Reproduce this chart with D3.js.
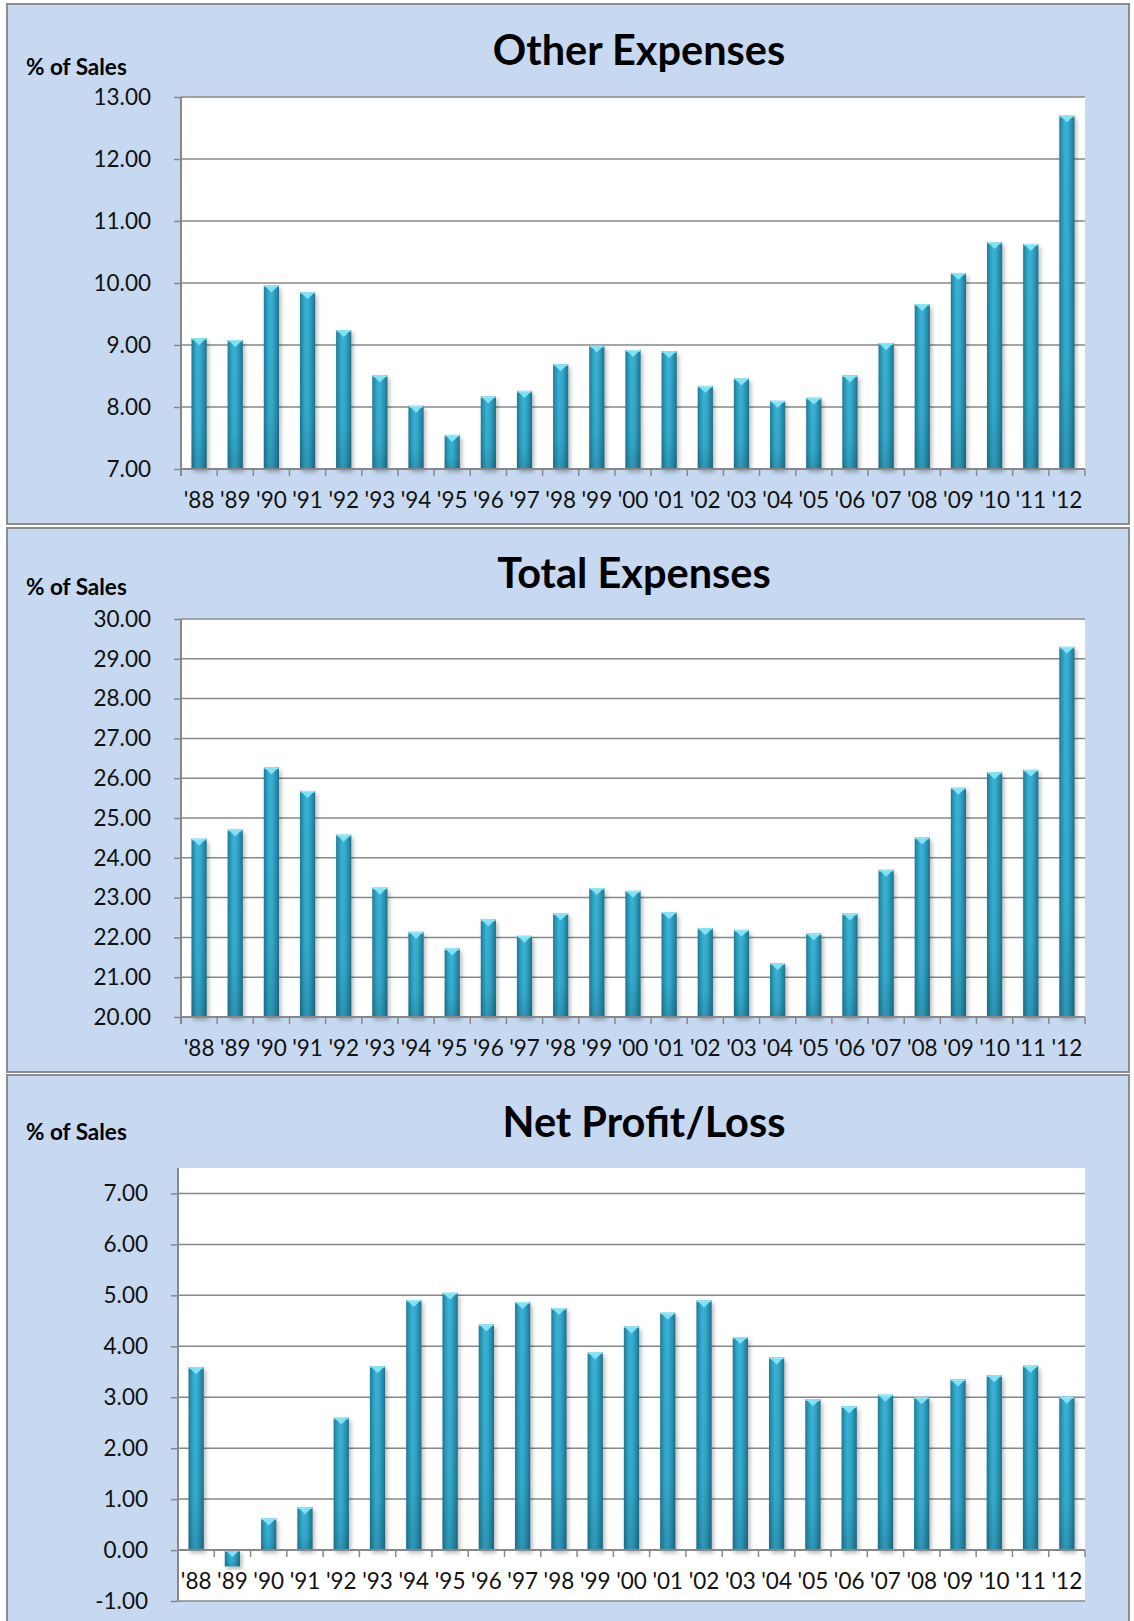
<!DOCTYPE html>
<html>
<head>
<meta charset="utf-8">
<script src="https://cdn.jsdelivr.net/npm/d3@7"></script>
<style>
  html, body { margin: 0; padding: 0; background: #ffffff; }
  svg { display: block; }
</style>
</head>
<body>
<svg id="chart" width="1134" height="1621"></svg>
<script>
// ---------------- DATA ----------------
const categories = ["'88","'89","'90","'91","'92","'93","'94","'95","'96","'97","'98","'99","'00","'01","'02","'03","'04","'05","'06","'07","'08","'09","'10","'11","'12"];

const otherExpenses = [9.11, 9.08, 9.96, 9.85, 9.24, 8.51, 8.02, 7.55, 8.17, 8.26, 8.69, 8.99, 8.92, 8.90, 8.34, 8.46, 8.10, 8.15, 8.51, 9.03, 9.66, 10.16, 10.66, 10.63, 12.70];

const totalExpenses = [24.48, 24.71, 26.27, 25.68, 24.58, 23.25, 22.14, 21.72, 22.45, 22.04, 22.60, 23.24, 23.17, 22.63, 22.23, 22.19, 21.35, 22.10, 22.60, 23.70, 24.51, 25.76, 26.15, 26.21, 29.30];

const netProfit = [3.59, -0.32, 0.62, 0.84, 2.60, 3.61, 4.91, 5.05, 4.43, 4.87, 4.75, 3.88, 4.39, 4.66, 4.90, 4.18, 3.78, 2.96, 2.82, 3.05, 3.00, 3.35, 3.43, 3.62, 3.01];

const otherTicks = [7, 8, 9, 10, 11, 12, 13];
const totalTicks = [20, 21, 22, 23, 24, 25, 26, 27, 28, 29, 30];
const netTicks = [-1, 0, 1, 2, 3, 4, 5, 6, 7];

const titles = ["Other Expenses", "Total Expenses", "Net Profit/Loss"];
const axisTitle = "% of Sales";

// ---------------- DRAW ----------------
const svg = d3.select("#chart");
const FONT = "Lato, 'Open Sans', 'DejaVu Sans', sans-serif";
const fmt = v => d3.format(".2f")(v).replace("\u2212", "-");

const defs = svg.append("defs");
const hg = defs.append("linearGradient").attr("id", "barH").attr("x1", "0").attr("x2", "1").attr("y1", "0").attr("y2", "0");
[["0%", "#1f7892"], ["18%", "#2c99b9"], ["40%", "#38b4d8"], ["62%", "#33a8cb"], ["85%", "#2889a8"], ["100%", "#1c6f88"]]
  .forEach(([o, c]) => hg.append("stop").attr("offset", o).attr("stop-color", c));
const vg = defs.append("linearGradient").attr("id", "barV").attr("x1", "0").attr("x2", "0").attr("y1", "0").attr("y2", "1");
[["0%", 0], ["70%", 0.06], ["100%", 0.22]]
  .forEach(([o, a]) => vg.append("stop").attr("offset", o).attr("stop-color", "#06303d").attr("stop-opacity", a));
const sh = defs.append("filter").attr("id", "shadow").attr("x", "-50%").attr("y", "-10%").attr("width", "200%").attr("height", "130%");
sh.append("feDropShadow").attr("dx", 2).attr("dy", 3).attr("stdDeviation", 2).attr("flood-color", "#000").attr("flood-opacity", 0.28);

const panels = [
  { title: titles[0], values: otherExpenses, ticks: otherTicks, domain: [7, 13], base: 7,
    py: 4, ph: 520, left: 181, right: 1085, top: 97, bottom: 469,
    titleX: 639, titleY: 65, axTitleY: 75 },
  { title: titles[1], values: totalExpenses, ticks: totalTicks, domain: [20, 30], base: 20,
    py: 528, ph: 544, left: 181, right: 1085, top: 619, bottom: 1017,
    titleX: 634, titleY: 588, axTitleY: 595 },
  { title: titles[2], values: netProfit, ticks: netTicks, domain: [-1, 7.5], base: 0,
    py: 1075, ph: 560, left: 178, right: 1085, top: 1168, bottom: 1601,
    titleX: 644, titleY: 1137, axTitleY: 1140 }
];

const GRID = "#888888";

panels.forEach(p => {
  const g = svg.append("g");
  g.append("rect")
    .attr("x", 7).attr("y", p.py).attr("width", 1122).attr("height", p.ph)
    .attr("fill", "#c6d9f0").attr("stroke", "#8c8c8c").attr("stroke-width", 2);

  const x = d3.scaleBand().domain(categories).range([p.left, p.right])
    .paddingInner(0.58).paddingOuter(0.29);
  const y = d3.scaleLinear().domain(p.domain).range([p.bottom, p.top]);
  const step = x.step();
  const bw = x.bandwidth();

  // plot area
  g.append("rect")
    .attr("x", p.left).attr("y", p.top)
    .attr("width", p.right - p.left).attr("height", p.bottom - p.top)
    .attr("fill", "#ffffff");

  // gridlines
  g.append("g").selectAll("line").data(p.ticks).join("line")
    .attr("x1", p.left).attr("x2", p.right)
    .attr("y1", d => y(d)).attr("y2", d => y(d))
    .attr("stroke", GRID).attr("stroke-width", 1.5);

  // bars
  const bars = g.append("g").selectAll("g").data(p.values).join("g");
  bars.each(function(v, i) {
    const gg = d3.select(this);
    const bx = x(categories[i]);
    const y1 = y(Math.max(v, p.base));
    const y2 = y(Math.min(v, p.base));
    const h = Math.max(0, y2 - y1);
    gg.append("rect").attr("x", bx).attr("y", y1).attr("width", bw).attr("height", h)
      .attr("fill", "url(#barH)").attr("filter", "url(#shadow)");
    gg.append("rect").attr("x", bx).attr("y", y1).attr("width", bw).attr("height", h)
      .attr("fill", "url(#barV)");
    // top bevel
    gg.append("rect").attr("x", bx + 0.5).attr("y", y1).attr("width", bw - 1).attr("height", 1.6)
      .attr("fill", "#9beaf8");
    gg.append("path")
      .attr("d", `M${bx + 1.5},${y1 + 1} L${bx + bw - 1.5},${y1 + 1} L${bx + bw / 2},${y1 + 7} Z`)
      .attr("fill", "#7fe2f6");
  });

  // y axis
  const yAxis = d3.axisLeft(y).tickValues(p.ticks).tickFormat(fmt)
    .tickSize(7).tickPadding(23).tickSizeOuter(0);
  const ya = g.append("g").attr("transform", `translate(${p.left},0)`).call(yAxis);
  ya.select(".domain").remove();
  ya.selectAll(".tick line").attr("stroke", GRID).attr("stroke-width", 1.5);
  ya.selectAll(".tick text").attr("font-family", FONT).attr("font-size", 22.5).attr("fill", "#111");
  g.append("line").attr("x1", p.left).attr("x2", p.left).attr("y1", p.top).attr("y2", Math.max(p.bottom, y(p.base) + 7))
    .attr("stroke", GRID).attr("stroke-width", 2);

  // x axis line + boundary ticks
  const y0 = y(p.base);
  g.append("line").attr("x1", p.left).attr("x2", p.right).attr("y1", y0).attr("y2", y0)
    .attr("stroke", GRID).attr("stroke-width", 2);
  const bounds = categories.map(c => x(c) + bw / 2 - step / 2).concat([x(categories[categories.length - 1]) + bw / 2 + step / 2]);
  g.append("g").selectAll("line").data(bounds).join("line")
    .attr("x1", d => d).attr("x2", d => d).attr("y1", y0).attr("y2", y0 + 7)
    .attr("stroke", GRID).attr("stroke-width", 1.5);

  // x labels
  const xAxis = d3.axisBottom(x).tickSize(0).tickPadding(0);
  const xa = g.append("g").attr("transform", `translate(0,${y0})`).call(xAxis);
  xa.select(".domain").remove();
  xa.selectAll(".tick text").attr("y", 39).attr("dy", null)
    .attr("font-family", FONT).attr("font-size", 22.5).attr("fill", "#111");

  // titles
  g.append("text").attr("x", p.titleX).attr("y", p.titleY).attr("text-anchor", "middle")
    .attr("font-family", FONT).attr("font-weight", "bold").attr("font-size", 41.5).attr("fill", "#000")
    .text(p.title);
  g.append("text").attr("x", 26).attr("y", p.axTitleY)
    .attr("font-family", FONT).attr("font-weight", "bold").attr("font-size", 22.5).attr("fill", "#000")
    .text(axisTitle);
});
</script>
</body>
</html>
